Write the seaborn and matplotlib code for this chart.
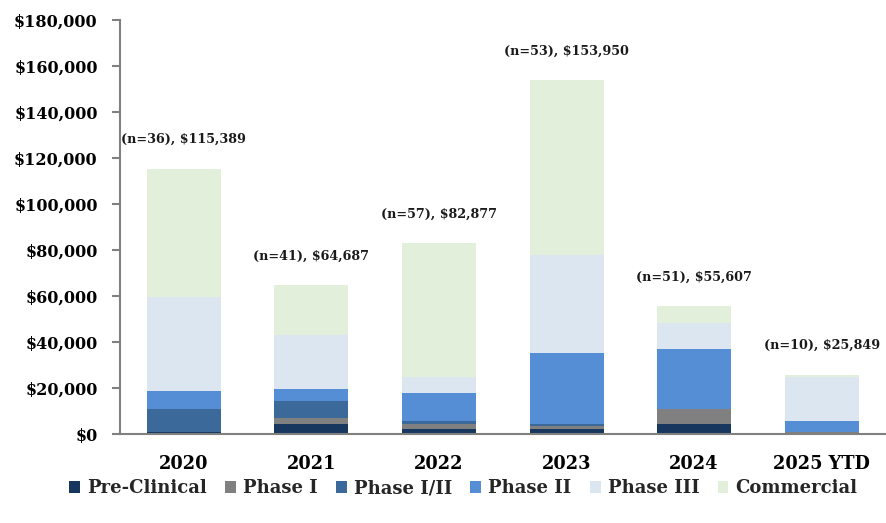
import matplotlib
matplotlib.use("Agg")
import matplotlib.pyplot as plt
from matplotlib.patches import Patch
from matplotlib.ticker import FuncFormatter
import numpy as np
import pandas as pd
import seaborn as sns

# Funding by development stage, USD thousands
years = ["2020", "2021", "2022", "2023", "2024", "2025 YTD"]
deal_counts = [36, 41, 57, 53, 51, 10]
totals = [115389, 64687, 82877, 153950, 55607, 25849]

pre_clinical = [1100, 4600, 2000, 2000, 4600, 0]
phase_1 = [0, 2600, 2600, 1700, 6100, 1100]
phase_1_2 = [9600, 7000, 900, 900, 0, 0]
phase_2 = [8000, 5200, 12200, 30500, 26200, 4400]
phase_3 = [41000, 23500, 7000, 42700, 11300, 19200]
commercial = [55689, 21787, 58177, 76150, 7407, 1149]

stages = ["Pre-Clinical", "Phase I", "Phase I/II", "Phase II", "Phase III", "Commercial"]
stage_values = [pre_clinical, phase_1, phase_1_2, phase_2, phase_3, commercial]
stage_colors = ["#17375E", "#808080", "#3B6A9A", "#558ED5", "#DCE6F1", "#E2EFDA"]

sns.set_theme(style="white")
plt.rcParams["font.family"] = ["DejaVu Serif"]
plt.rcParams["font.weight"] = "bold"

fig = plt.figure(figsize=(8.86, 5.23), dpi=100)
ax = fig.add_axes([0.1354, 0.170, 0.864, 0.792])

df = pd.DataFrame({"year": years})
bottom = np.zeros(len(years))
for name, vals, col in zip(stages, stage_values, stage_colors):
    df[name] = vals
    sns.barplot(data=df, x="year", y=name, color=col, bottom=bottom,
                width=0.58, ax=ax, linewidth=0, saturation=1)
    bottom = bottom + np.array(vals)

for i, (n, tot) in enumerate(zip(deal_counts, totals)):
    ax.annotate(f"(n={n}), ${tot:,}", xy=(i, tot), xytext=(0, 29),
                textcoords="offset pixels",
                ha="center", va="center", fontsize=9.2, fontweight="bold",
                color="#1a1a1a")

ax.set_ylim(0, 180000)
ax.set_xlim(-0.5, 5.5)
ax.set_yticks(np.arange(0, 180001, 20000))
ax.yaxis.set_major_formatter(FuncFormatter(lambda v, p: f"${v:,.0f}"))
ax.set_xlabel("")
ax.set_ylabel("")

for s in ["top", "right"]:
    ax.spines[s].set_visible(False)
for s in ["left", "bottom"]:
    ax.spines[s].set_color("#808080")
    ax.spines[s].set_linewidth(1.5)

ax.tick_params(axis="y", which="major", left=True, length=6, width=1.5,
               color="#808080", labelsize=11.5, pad=10, labelcolor="black")
ax.tick_params(axis="x", bottom=False, labelsize=12.8, pad=9, labelcolor="black")
for lab in ax.get_xticklabels() + ax.get_yticklabels():
    lab.set_fontweight("bold")

handles = [Patch(facecolor=c, edgecolor="none") for c in stage_colors]
fig.legend(handles, stages, loc="center", bbox_to_anchor=(0.523, 0.066),
           ncol=6, frameon=False, handlelength=0.6,
           handleheight=0.6, handletextpad=0.4, columnspacing=1.0,
           prop={"weight": "bold", "size": 13})

fig.savefig("out.png", dpi=100)
